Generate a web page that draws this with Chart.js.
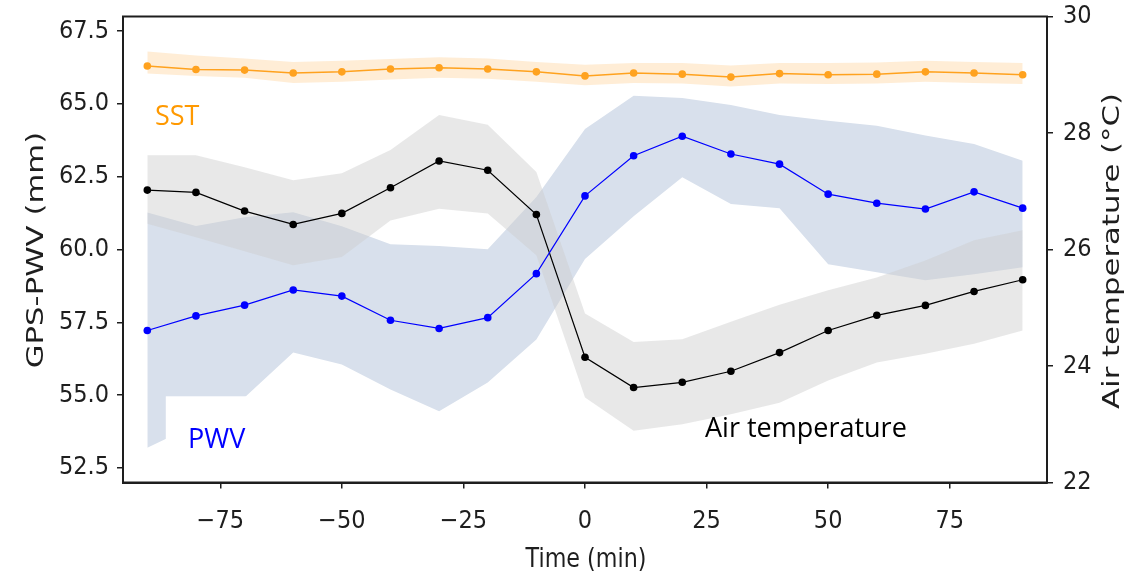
<!DOCTYPE html>
<html><head><meta charset="utf-8">
<script src="https://cdn.jsdelivr.net/npm/chart.js@4.4.1/dist/chart.umd.min.js"></script>
<style>html,body{margin:0;padding:0;background:#fff;}canvas{display:block;}</style>
</head><body>
<canvas id="c" width="1145" height="579"></canvas>
<script>
// ---- data ----
const timeMin = [-90,-80,-70,-60,-50,-40,-30,-20,-10,0,10,20,30,40,50,60,70,80,90];

const sstC     = [29.15,29.09,29.08,29.03,29.05,29.10,29.12,29.10,29.05,28.98,29.03,29.01,28.96,29.02,29.00,29.01,29.05,29.03,29.00];
const sstUpper = [29.40,29.33,29.28,29.22,29.24,29.27,29.30,29.28,29.22,29.17,29.20,29.20,29.16,29.20,29.20,29.21,29.24,29.22,29.20];
const sstLower = [29.02,28.98,28.95,28.86,28.88,28.92,28.95,28.93,28.88,28.82,28.86,28.85,28.80,28.85,28.84,28.85,28.88,28.86,28.84];

const pwvMm    = [57.22,57.72,58.09,58.61,58.40,57.57,57.29,57.66,59.17,61.84,63.22,63.89,63.28,62.93,61.90,61.59,61.39,61.98,61.42];
const pwvUpper = [61.27,60.81,61.11,61.28,60.80,60.18,60.12,60.01,61.80,64.14,65.28,65.20,64.96,64.62,64.42,64.25,63.91,63.62,63.05];
const pwvLower = [53.19,53.99,54.92,56.46,56.05,55.19,54.45,55.43,56.91,59.67,61.14,62.48,61.56,61.42,59.49,59.22,58.94,59.15,59.39];

const airC     = [27.02,26.98,26.66,26.43,26.62,27.06,27.52,27.36,26.60,24.15,23.63,23.72,23.91,24.23,24.61,24.87,25.04,25.28,25.48];
const airUpper = [27.62,27.62,27.41,27.19,27.31,27.71,28.31,28.14,27.33,24.90,24.41,24.46,24.76,25.05,25.30,25.52,25.81,26.16,26.33];
const airLower = [26.44,26.21,25.97,25.73,25.87,26.50,26.70,26.62,25.90,23.46,22.89,23.00,23.17,23.37,23.75,24.06,24.21,24.38,24.61];

const xTickValues   = [-75,-50,-25,0,25,50,75];
const pwvTickValues = [52.5,55.0,57.5,60.0,62.5,65.0,67.5];
const airTickValues = [22,24,26,28,30];

// ---- helpers ----
const pts = ys => timeMin.map((t,i)=>({x:t,y:ys[i]}));
const FAMILY = "'DejaVu Sans Condensed','DejaVu Sans',sans-serif";
const X_TICK_FONT = {family:FAMILY, size:25};
const Y_TICK_FONT = {family:FAMILY, size:25, lineHeight:0.5};
const INK = '#1e1e1e';
const fmt = v => (v < 0 ? '\u2212' + Math.abs(v) : String(v));
const CLEAR = 'rgba(0,0,0,0)';

function band(data, axis, fillColor, fillTarget){
  return {data:pts(data), yAxisID:axis, borderColor:CLEAR, borderWidth:0, pointRadius:0,
          backgroundColor:fillColor, fill:fillTarget, tension:0};
}
function series(data, axis, color, width){
  return {data:pts(data), yAxisID:axis, borderColor:color, backgroundColor:color, borderWidth:width,
          pointRadius:3.8, pointBorderWidth:0, pointBackgroundColor:color, fill:false, tension:0};
}

const overlay = {
  id:'overlay',
  afterDatasetsDraw(chart){
    const {ctx, chartArea:a, scales} = chart;
    const x = scales.x, yP = scales.yP;
    // white label box covering part of the PWV band
    ctx.save();
    ctx.fillStyle = '#fff';
    const x0 = x.getPixelForValue(-86.2), x1 = x.getPixelForValue(-69.4);
    const y0 = yP.getPixelForValue(54.96);
    ctx.fillRect(x0, y0, x1 - x0, a.bottom - 2 - y0);
    ctx.restore();
  },
  afterDraw(chart){
    const {ctx, chartArea:a} = chart;
    ctx.save();
    // frame
    ctx.strokeStyle = INK; ctx.lineWidth = 2;
    ctx.strokeRect(a.left, a.top, a.right - a.left, a.bottom - a.top);
    // axis titles
    ctx.fillStyle = INK;
    ctx.font = "25px 'DejaVu Sans'";
    ctx.textAlign = 'center'; ctx.textBaseline = 'middle';
    ctx.save(); ctx.translate(37, 250); ctx.rotate(-Math.PI/2); ctx.scale(1.23, 0.92);
    ctx.fillText('GPS-PWV (mm)', 0, 0); ctx.restore();
    ctx.save(); ctx.translate(1113, 251); ctx.rotate(-Math.PI/2); ctx.scale(1.23, 0.92);
    ctx.fillText('Air temperature (\u00B0C)', 0, 0); ctx.restore();
    ctx.textBaseline = 'alphabetic';
    ctx.save(); ctx.translate(586, 567); ctx.scale(0.89, 1.06);
    ctx.fillText('Time (min)', 0, 0); ctx.restore();
    // series annotations
    ctx.textAlign = 'left'; ctx.textBaseline = 'alphabetic';
    ctx.font = "27px 'Open Sans'";
    ctx.fillStyle = '#ff9900'; ctx.fillText('SST', 155, 125);
    ctx.fillStyle = '#0000ff'; ctx.fillText('PWV', 188, 448);
    ctx.fillStyle = '#000000'; ctx.fillText('Air temperature', 705, 437);
    ctx.restore();
  }
};

const commonGrid = {drawOnChartArea:false, drawTicks:true, tickLength:6, color:INK, lineWidth:1.5};
const commonBorder = {display:true, color:INK, width:2};

new Chart(document.getElementById('c'), {
  type:'line',
  data:{datasets:[
    series(sstC, 'yT', '#ffa21f', 1.5),
    series(pwvMm, 'yP', '#0000ff', 1.2),
    series(airC, 'yT', '#000000', 1.2),
    band(airUpper, 'yT', 'rgba(205,205,205,0.46)', '+1'),
    band(airLower, 'yT', CLEAR, false),
    band(pwvUpper, 'yP', 'rgb(216,224,236)', '+1'),
    band(pwvLower, 'yP', CLEAR, false),
    band(sstUpper, 'yT', 'rgba(255,165,50,0.2)', '+1'),
    band(sstLower, 'yT', CLEAR, false)
  ]},
  options:{
    responsive:false, animation:false, events:[],
    layout:{padding:{top:16.5, left:0, right:0, bottom:0}},
    plugins:{legend:{display:false}, tooltip:{enabled:false}, filler:{propagate:false, drawTime:'beforeDatasetsDraw'}},
    scales:{
      x:{type:'linear', position:'bottom', min:-95, max:95,
         afterBuildTicks:s=>{s.ticks = xTickValues.map(v=>({value:v}));},
         afterFit:s=>{s.height = 96.5;},
         ticks:{font:X_TICK_FONT, color:INK, padding:18, maxRotation:0, callback:v=>fmt(v)},
         grid:commonGrid, border:commonBorder},
      yP:{type:'linear', position:'left', min:52, max:68,
         afterBuildTicks:s=>{s.ticks = pwvTickValues.map(v=>({value:v}));},
         afterFit:s=>{s.width = 123;},
         ticks:{font:Y_TICK_FONT, color:INK, padding:8, callback:v=>Number(v).toFixed(1)},
         grid:commonGrid, border:commonBorder},
      yT:{type:'linear', position:'right', min:22, max:30,
         afterBuildTicks:s=>{s.ticks = airTickValues.map(v=>({value:v}));},
         afterFit:s=>{s.width = 98;},
         ticks:{font:Y_TICK_FONT, color:INK, padding:10, callback:v=>String(v)},
         grid:commonGrid, border:commonBorder}
    }
  },
  plugins:[overlay]
});
</script>
</body></html>
